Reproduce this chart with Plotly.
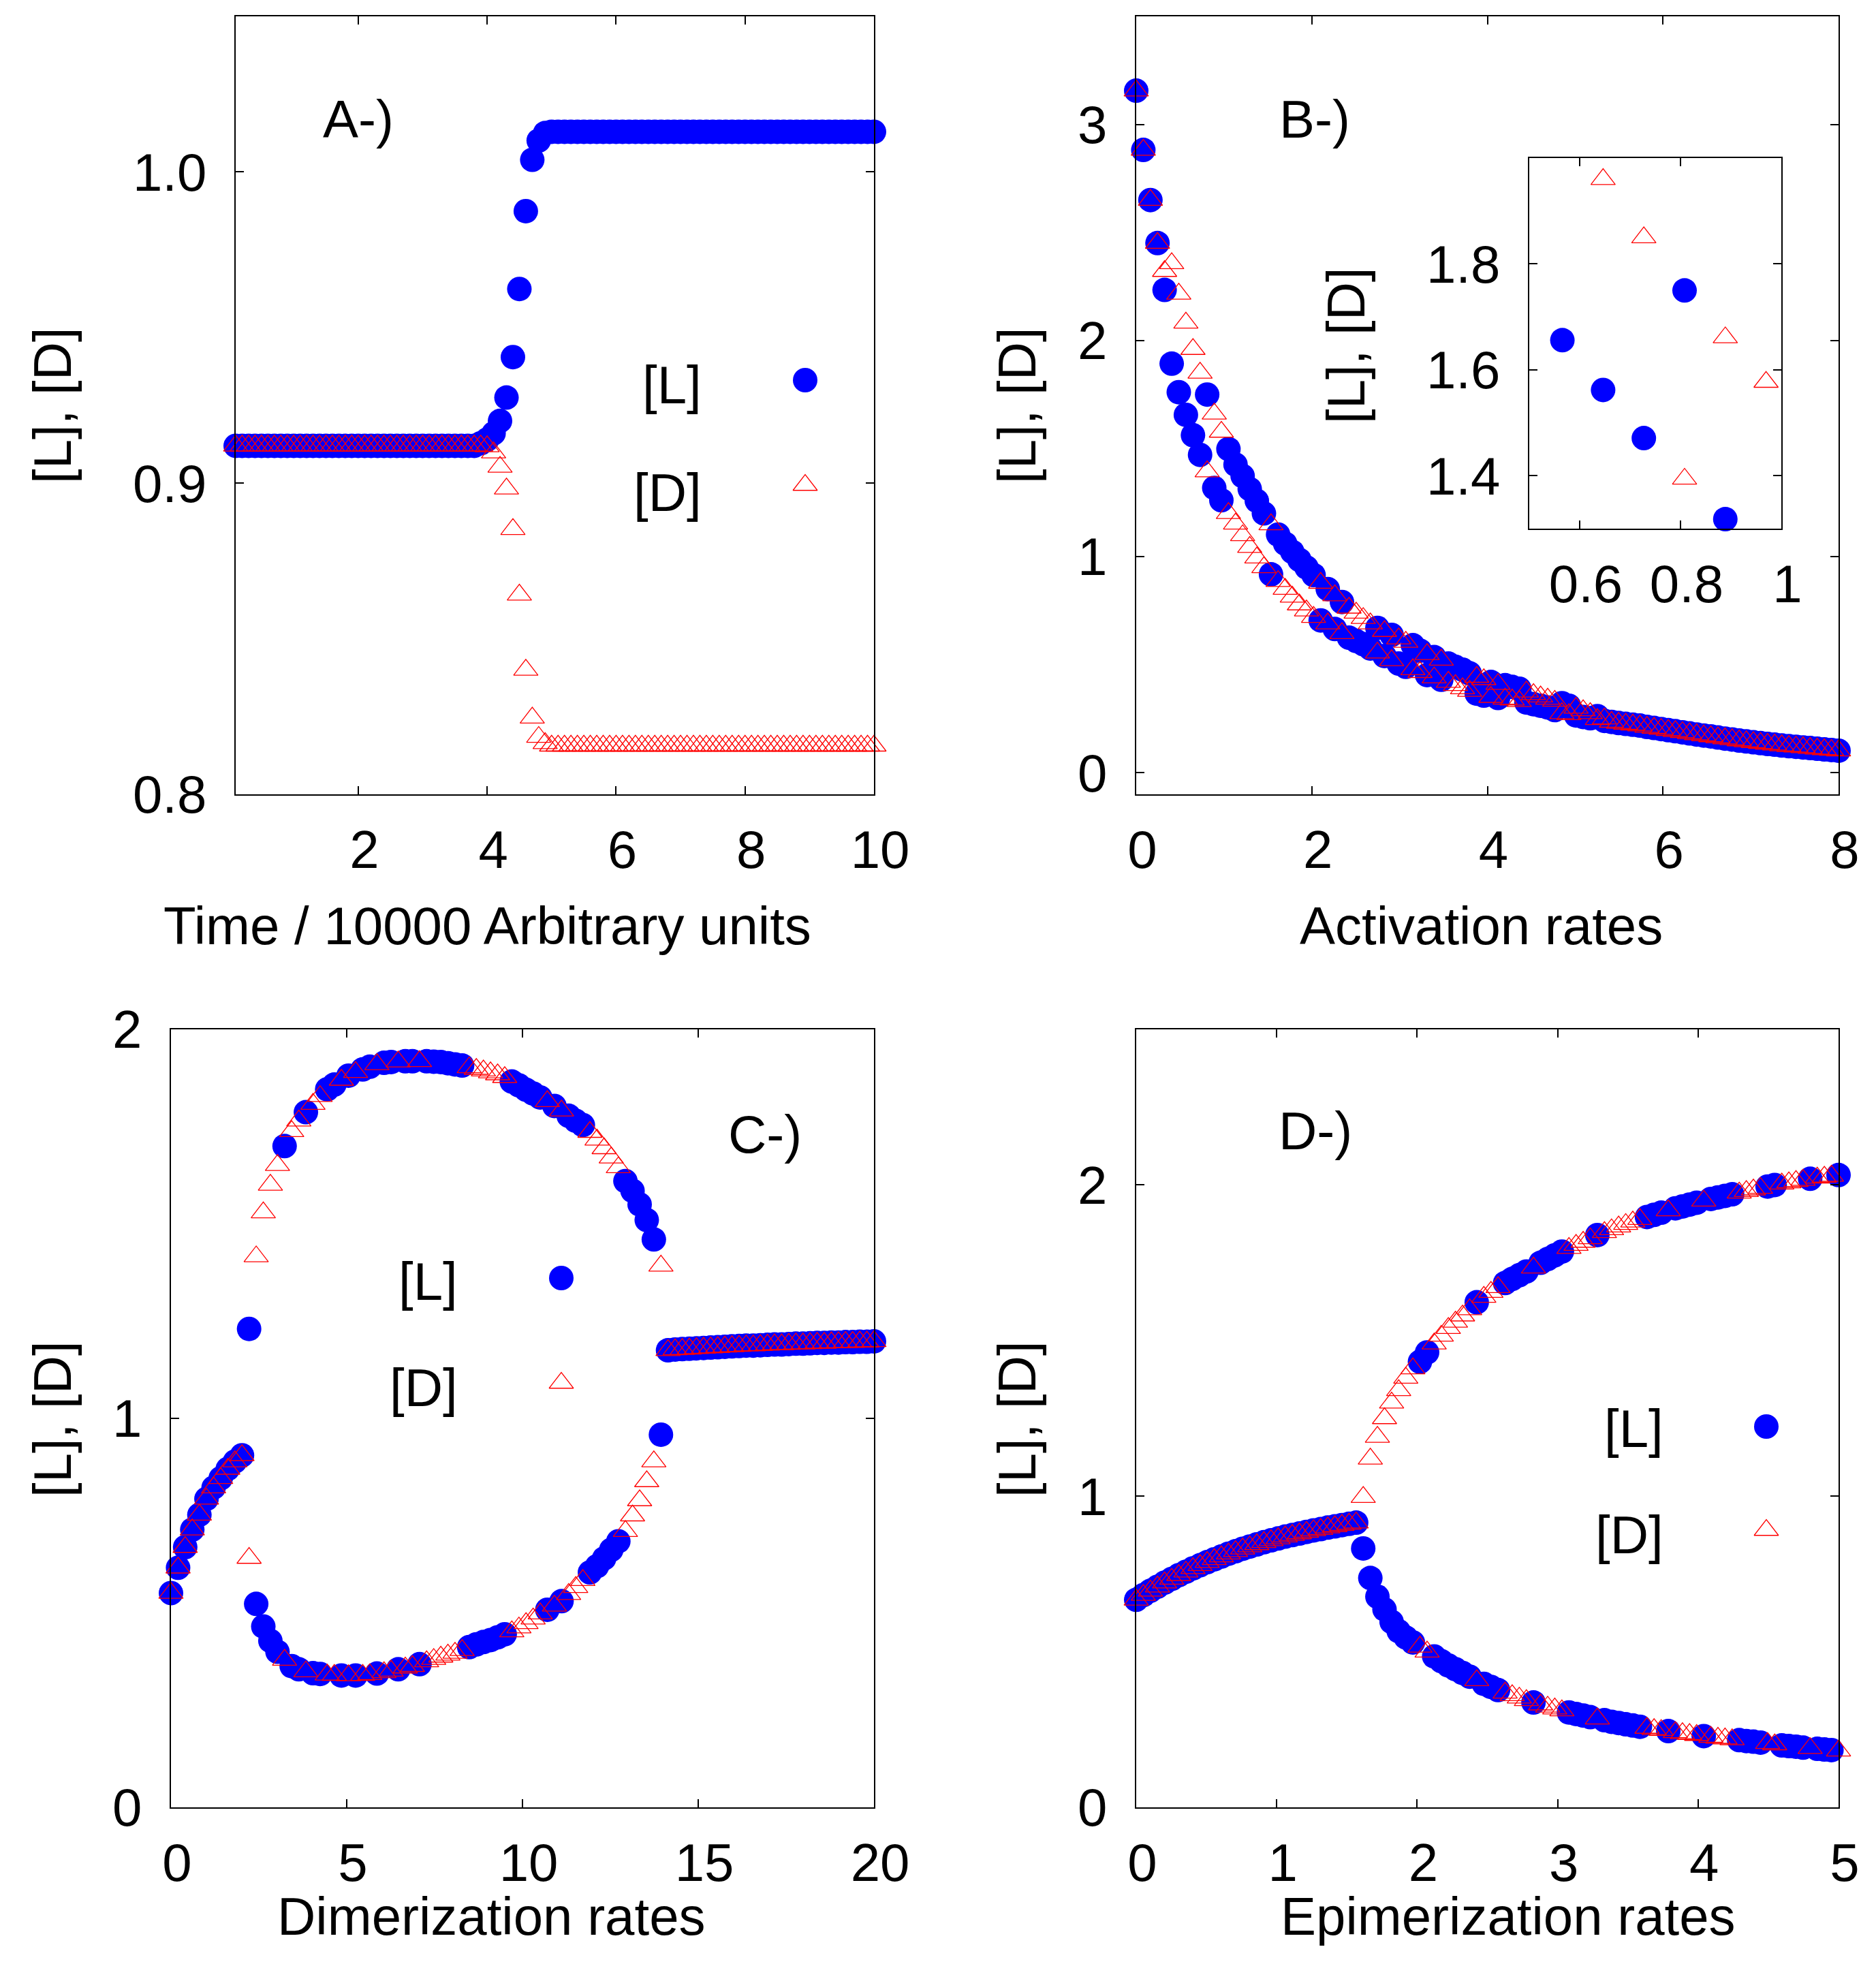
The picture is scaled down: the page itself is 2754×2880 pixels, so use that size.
import numpy as np
import plotly.graph_objects as go

W, H = 2754, 2880          # page (screenshot) size
OFF = 8                    # browser body margin
FW, FH = W - 2 * OFF, H - 2 * OFF   # figure size so the page does not overflow
FONT = "Liberation Sans, Arial, sans-serif"
FS = 78
BLUE = "#0000ff"
RED = "#ff0000"

# ---------------- Panel A : time course ----------------
time_a = np.round(np.linspace(0.1, 10.0, 100), 2)
L_a = [0.912] * 38 + [0.9128, 0.914, 0.916, 0.920, 0.9275, 0.9405, 0.9624, 0.9874,
                      1.0039, 1.0101, 1.0125] + [1.0129] * 51
D_a = [0.912] * 39 + [0.9118, 0.9098, 0.9052, 0.8982, 0.8852, 0.8641, 0.8400, 0.8246,
                      0.8184, 0.8164] + [0.8156] * 51

# ---------------- Panel B : activation rates ----------------
rate_b = np.linspace(0.0, 8.0, 100)
L_b = [3.156, 2.882, 2.650, 2.451, 2.234, 1.893, 1.761, 1.656, 1.562, 1.471,
       1.750, 1.318, 1.261, 1.498, 1.426, 1.373, 1.313, 1.258, 1.200, 0.918,
       1.102, 1.060, 1.022, 0.985, 0.950, 0.915, 0.705, 0.850, 0.665, 0.790,
       0.625, 0.610, 0.595, 0.575, 0.670, 0.540, 0.638, 0.505, 0.490, 0.590,
       0.565, 0.452, 0.535, 0.430, 0.505, 0.490, 0.477, 0.460, 0.366, 0.357,
       0.420, 0.346, 0.405, 0.397, 0.389, 0.325, 0.317, 0.310, 0.302, 0.290,
       0.322, 0.310, 0.265, 0.258, 0.252, 0.262, 0.240, 0.235, 0.230, 0.226,
       0.222, 0.218, 0.212, 0.207, 0.202, 0.197, 0.192, 0.187, 0.182, 0.177,
       0.172, 0.168, 0.163, 0.158, 0.154, 0.149, 0.145, 0.141, 0.137, 0.133,
       0.130, 0.126, 0.123, 0.120, 0.117, 0.114, 0.111, 0.108, 0.105, 0.102]
D_b = [3.156, 2.882, 2.650, 2.451, 2.321, 2.357, 2.216, 2.082, 1.960, 1.850,
       1.394, 1.661, 1.577, 1.201, 1.152, 1.098, 1.044, 0.995, 0.950, 1.149,
       0.886, 0.850, 0.814, 0.778, 0.750, 0.720, 0.878, 0.690, 0.820, 0.645,
       0.763, 0.740, 0.715, 0.690, 0.555, 0.655, 0.520, 0.621, 0.605, 0.478,
       0.465, 0.548, 0.440, 0.522, 0.420, 0.405, 0.390, 0.378, 0.443, 0.432,
       0.350, 0.410, 0.342, 0.338, 0.331, 0.375, 0.363, 0.352, 0.342, 0.332,
       0.275, 0.270, 0.300, 0.288, 0.275, 0.247, 0.250, 0.235, 0.230, 0.226,
       0.222, 0.218, 0.212, 0.207, 0.202, 0.197, 0.192, 0.187, 0.182, 0.177,
       0.172, 0.168, 0.163, 0.158, 0.154, 0.149, 0.145, 0.141, 0.137, 0.133,
       0.130, 0.126, 0.123, 0.120, 0.117, 0.114, 0.111, 0.108, 0.105, 0.102]

# ---------------- Panel C : dimerization rates ----------------
rate_c = np.linspace(0.0, 20.0, 100)
L_c = [0.551, 0.616, 0.669, 0.714, 0.752, 0.793, 0.822, 0.846, 0.870, 0.889,
       0.905, 1.230, 0.523, 0.465, 0.428, 0.400, 1.700, 0.363, 0.355, 1.787,
       0.345, 0.343, 1.846, 1.858, 0.339, 1.881, 0.339, 1.897, 1.904, 0.344,
       1.914, 1.916, 0.355, 1.918, 1.918, 0.368, 1.918, 1.917, 1.916, 1.913,
       1.910, 1.907, 0.412, 0.419, 0.425, 0.430, 0.437, 0.445, 1.866, 1.856,
       1.845, 1.835, 1.825, 0.508, 1.803, 0.530, 1.778, 1.765, 1.754, 0.604,
       0.620, 0.640, 0.662, 0.684, 1.610, 1.585, 1.550, 1.510, 1.460, 0.958,
       1.175, 1.177, 1.178, 1.179, 1.180, 1.181, 1.182, 1.183, 1.184, 1.185,
       1.186, 1.187, 1.187, 1.188, 1.189, 1.190, 1.190, 1.191, 1.192, 1.192,
       1.193, 1.194, 1.194, 1.195, 1.195, 1.196, 1.196, 1.197, 1.197, 1.198]
D_c = [0.551, 0.616, 0.669, 0.714, 0.752, 0.793, 0.822, 0.846, 0.870, 0.889,
       0.905, 0.641, 1.416, 1.529, 1.600, 1.651, 0.379, 1.738, 1.765, 0.349,
       1.808, 1.828, 0.341, 0.340, 1.870, 0.339, 1.890, 0.340, 0.342, 1.910,
       0.347, 0.351, 1.917, 0.359, 0.363, 1.918, 0.375, 0.381, 0.387, 0.392,
       0.397, 0.404, 1.902, 1.898, 1.894, 1.889, 1.884, 1.877, 0.452, 0.462,
       0.473, 0.485, 0.498, 1.815, 0.518, 1.791, 0.548, 0.566, 0.584, 1.736,
       1.716, 1.694, 1.670, 1.645, 0.710, 0.750, 0.789, 0.838, 0.889, 1.392,
       1.175, 1.177, 1.178, 1.179, 1.180, 1.181, 1.182, 1.183, 1.184, 1.185,
       1.186, 1.187, 1.187, 1.188, 1.189, 1.190, 1.190, 1.191, 1.192, 1.192,
       1.193, 1.194, 1.194, 1.195, 1.195, 1.196, 1.196, 1.197, 1.197, 1.198]

# ---------------- Panel D : epimerization rates ----------------
rate_d = np.linspace(0.0, 5.0, 100)
sym_d = [0.667, 0.682, 0.696, 0.709, 0.722, 0.734, 0.746, 0.757, 0.768, 0.778,
         0.788, 0.797, 0.806, 0.815, 0.823, 0.831, 0.838, 0.845, 0.852, 0.858,
         0.864, 0.870, 0.875, 0.880, 0.885, 0.890, 0.894, 0.899, 0.903, 0.907,
         0.911, 0.915]
L_d = sym_d + [
    0.832, 0.737, 0.677, 0.636, 0.596, 0.566, 0.546, 0.530, 1.432, 1.462,
    0.485, 0.470, 0.456, 0.444, 0.432, 0.420, 1.623, 0.397, 0.387, 0.377,
    1.685, 1.698, 1.710, 1.722, 0.337, 1.750, 1.762, 1.774, 1.786, 0.305,
    0.300, 0.295, 0.290, 1.839, 0.280, 0.275, 0.271, 0.267, 0.263, 0.259,
    1.897, 1.904, 1.911, 0.245, 1.925, 1.931, 1.937, 1.943, 0.229, 1.955,
    1.960, 1.965, 1.970, 0.216, 0.213, 0.211, 0.208, 1.995, 2.000, 0.199,
    0.197, 0.195, 0.192, 2.020, 0.188, 0.186, 0.184, 2.032]
D_d = sym_d + [
    0.997, 1.120, 1.190, 1.250, 1.300, 1.340, 1.380, 1.410, 0.516, 0.500,
    1.490, 1.515, 1.540, 1.560, 1.580, 1.600, 0.408, 1.640, 1.656, 1.671,
    0.368, 0.360, 0.352, 0.344, 1.734, 0.330, 0.323, 0.317, 0.311, 1.797,
    1.807, 1.817, 1.828, 0.285, 1.848, 1.857, 1.866, 1.874, 1.882, 1.890,
    0.255, 0.251, 0.248, 1.918, 0.241, 0.238, 0.235, 0.232, 1.949, 0.226,
    0.223, 0.221, 0.218, 1.975, 1.980, 1.985, 1.990, 0.206, 0.202, 2.004,
    2.008, 2.012, 2.016, 0.190, 2.023, 2.026, 2.029, 0.182]

# inset of panel B (same data, only points inside its window, as in the original)
INSET_X = [0.5, 1.0]
INSET_Y = [1.3, 2.0]

# ---------------- layout constants (page pixels) ----------------
PANEL_PX = {  # left, right, top, bottom
    "A": (346, 1283, 24, 1166),
    "B": (1668, 2699, 24, 1166),
    "C": (251, 1283, 1511, 2653),
    "D": (1668, 2699, 1511, 2653),
    "I": (2245, 2615, 232, 776),
}


def px(x):
    return (x - OFF) / FW


def py(y):
    return 1 - (y - OFF) / FH


def xdom(p):
    l, r, t, b = PANEL_PX[p]
    return [px(l), px(r)]


def ydom(p):
    l, r, t, b = PANEL_PX[p]
    return [py(b), py(t)]


CIRC = 36
TRI = 31

fig = go.Figure()


def add_pair(x, yl, yd, xa, ya, clip=False):
    fig.add_trace(go.Scatter(x=x, y=yl, mode="markers", xaxis=xa, yaxis=ya,
                             cliponaxis=clip, showlegend=False,
                             marker=dict(symbol="circle", size=CIRC, color=BLUE,
                                         line=dict(width=0))))
    fig.add_trace(go.Scatter(x=x, y=yd, mode="markers", xaxis=xa, yaxis=ya,
                             cliponaxis=clip, showlegend=False,
                             marker=dict(symbol="triangle-up-open", size=TRI, color=RED,
                                         line=dict(width=1.3, color=RED))))


add_pair(time_a, L_a, D_a, "x", "y")
add_pair(rate_b, L_b, D_b, "x2", "y2")
add_pair(rate_c, L_c, D_c, "x3", "y3")
add_pair(rate_d, L_d, D_d, "x4", "y4")


def inside(xs, ys):
    xs = np.asarray(xs)
    ys = np.asarray(ys)
    m = (xs >= INSET_X[0]) & (xs <= INSET_X[1]) & (ys >= INSET_Y[0]) & (ys <= INSET_Y[1])
    return xs[m], ys[m]


xl, yl = inside(rate_b, L_b)
xd, yd = inside(rate_b, D_b)
fig.add_trace(go.Scatter(x=xl, y=yl, mode="markers", xaxis="x5", yaxis="y5",
                         cliponaxis=False, showlegend=False,
                         marker=dict(symbol="circle", size=CIRC, color=BLUE, line=dict(width=0))))
fig.add_trace(go.Scatter(x=xd, y=yd, mode="markers", xaxis="x5", yaxis="y5",
                         cliponaxis=False, showlegend=False,
                         marker=dict(symbol="triangle-up-open", size=TRI, color=RED,
                                     line=dict(width=1.3, color=RED))))

# key samples (legend markers), positioned in page pixels
KEY_L = [(1182, 558), (824, 1876), (2593, 2094)]
KEY_D = [(1182, 712), (824, 2030), (2593, 2246)]
fig.add_trace(go.Scatter(x=[p[0] for p in KEY_L], y=[p[1] for p in KEY_L], mode="markers",
                         xaxis="x6", yaxis="y6", cliponaxis=False, showlegend=False,
                         marker=dict(symbol="circle", size=CIRC, color=BLUE, line=dict(width=0))))
fig.add_trace(go.Scatter(x=[p[0] for p in KEY_D], y=[p[1] for p in KEY_D], mode="markers",
                         xaxis="x6", yaxis="y6", cliponaxis=False, showlegend=False,
                         marker=dict(symbol="triangle-up-open", size=TRI, color=RED,
                                     line=dict(width=1.3, color=RED))))

tickfont = dict(family=FONT, size=FS, color="black")


def axis(domain, rng, tickvals, ticktext=None, anchor=None, is_x=True):
    d = dict(domain=domain, range=rng, tickmode="array", tickvals=tickvals,
             ticks="inside", ticklen=12, tickwidth=1.5, tickcolor="black",
             showline=True, linewidth=2, linecolor="black", mirror="allticks",
             showgrid=False, zeroline=False, tickfont=tickfont, anchor=anchor,
             layer="above traces", automargin=False, fixedrange=True)
    if ticktext is not None:
        d["ticktext"] = ticktext
    if is_x:
        d["ticklabelstandoff"] = 12
        d["ticklabelshift"] = 9
    else:
        d["ticklabelstandoff"] = 25
    return d


xt_a = [2, 4, 6, 8, 10]
yt_a = [0.8, 0.9, 1.0]
xt_b = [0, 2, 4, 6, 8]
yt_b = [0, 1, 2, 3]
xt_c = [0, 5, 10, 15, 20]
yt_c = [0, 1, 2]
xt_d = [0, 1, 2, 3, 4, 5]
yt_d = [0, 1, 2]
xt_i = [0.6, 0.8, 1.0]
yt_i = [1.4, 1.6, 1.8]

fig.update_layout(
    width=FW, height=FH, autosize=False,
    margin=dict(l=0, r=0, t=0, b=0, pad=0, autoexpand=False),
    paper_bgcolor="white", plot_bgcolor="rgba(0,0,0,0)",
    font=dict(family=FONT, size=FS, color="black"),
    showlegend=False,
    xaxis=axis(xdom("A"), [0.1, 10], xt_a, anchor="y"),
    yaxis=axis(ydom("A"), [0.8, 1.05], yt_a, ["0.8", "0.9", "1.0"], anchor="x", is_x=False),
    xaxis2=axis(xdom("B"), [0, 8], xt_b, anchor="y2"),
    yaxis2=axis(ydom("B"), [-0.1, 3.5], yt_b, anchor="x2", is_x=False),
    xaxis3=axis(xdom("C"), [0, 20], xt_c, anchor="y3"),
    yaxis3=axis(ydom("C"), [0, 2], yt_c, anchor="x3", is_x=False),
    xaxis4=axis(xdom("D"), [0, 5], xt_d, anchor="y4"),
    yaxis4=axis(ydom("D"), [0, 2.5], yt_d, anchor="x4", is_x=False),
    xaxis5=axis(xdom("I"), INSET_X, xt_i, ["0.6", "0.8", "1"], anchor="y5"),
    yaxis5=axis(ydom("I"), INSET_Y, yt_i, ["1.4", "1.6", "1.8"], anchor="x5", is_x=False),
    xaxis6=dict(domain=[0, 1], range=[OFF, OFF + FW], visible=False, anchor="y6",
                fixedrange=True, automargin=False),
    yaxis6=dict(domain=[0, 1], range=[OFF + FH, OFF], visible=False, anchor="x6",
                fixedrange=True, automargin=False),
)

annots = []


def text(x, y, s, xanchor="center", angle=0):
    annots.append(dict(x=px(x), y=py(y), xref="paper", yref="paper", text=s,
                       showarrow=False, xanchor=xanchor, yanchor="middle",
                       textangle=angle, font=dict(family=FONT, size=FS, color="black")))


# axis titles
text(716, 1359, "Time / 10000 Arbitrary units")
text(2174, 1359, "Activation rates")
text(721, 2813, "Dimerization rates")
text(2214, 2813, "Epimerization rates")
for (x, y) in [(77, 595), (1493, 595), (77, 2083), (1493, 2083), (1976, 507)]:
    text(x, y, "[L], [D]", angle=-90)
# panel labels
text(526, 175, "A-)")
text(1930, 175, "B-)")
text(1123, 1665, "C-)")
text(1931, 1660, "D-)")
# key texts
for (x, y) in [(1032, 565), (674, 1881), (2444, 2097)]:
    text(x, y, "[L]", xanchor="right")
for (x, y) in [(1032, 723), (674, 2037), (2444, 2253)]:
    text(x, y, "[D]", xanchor="right")

fig.update_layout(annotations=annots)
fig.write_html("out.html")
